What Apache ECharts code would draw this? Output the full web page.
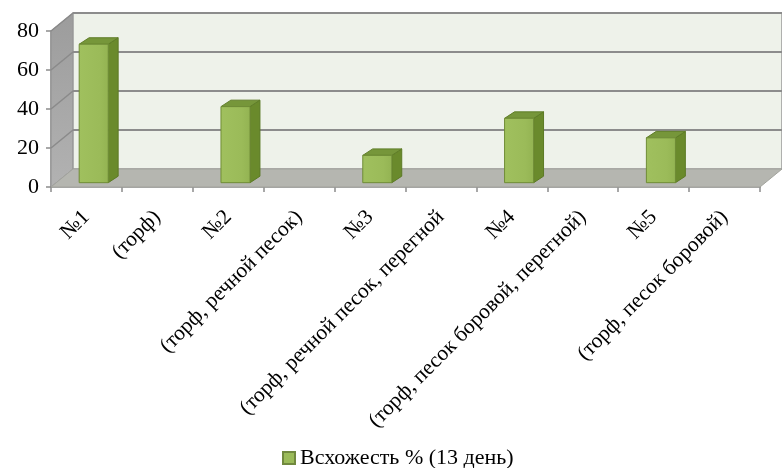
<!DOCTYPE html>
<html>
<head>
<meta charset="utf-8">
<script src="https://cdn.jsdelivr.net/npm/echarts@6/dist/echarts.min.js"></script>
<style>
  html, body { margin: 0; padding: 0; background: #ffffff; }
  #chart { width: 782px; height: 468px; }
</style>
</head>
<body>
<div id="chart"></div>
<script>
// Categories along the horizontal axis
const categories = [
  '№1', '(торф)',
  '№2', '(торф, речной песок)',
  '№3', '(торф, речной песок, перегной',
  '№4', '(торф, песок боровой, перегной)',
  '№5', '(торф, песок боровой)'
];
// Germination, % on day 13 (label rows carry no value)
const germination = [71, null, 39, null, 14, null, 33, null, 23, null];
const seriesName = 'Всхожесть % (13 день)';
// Value axis ticks
const yMin = 0;
const yMax = 80;
const yStep = 20;

// Depth of the pseudo-3D box, in pixels
const DX = 22;
const DY = -18;
const FONT = '"Liberation Serif", "Times New Roman", serif';

const chart = echarts.init(document.getElementById('chart'), null, { renderer: 'canvas' });

// Walls, floor and gridlines of the 3D box
function renderFrame(params, api) {
  const cs = params.coordSys;
  const xl = cs.x;
  const xr = cs.x + cs.width;
  const yb = api.coord([0, yMin])[1];
  const yt = api.coord([0, yMax])[1];
  const children = [];
  children.push({
    type: 'polygon',
    shape: { points: [[xl, yb], [xl, yt], [xl + DX, yt + DY], [xl + DX, yb + DY]] },
    style: {
      fill: new echarts.graphic.LinearGradient(0, 0, 0, 1, [
        { offset: 0, color: '#9c9c9c' },
        { offset: 1, color: '#b2b2b2' }
      ]),
      stroke: '#8f8f8f', lineWidth: 1
    }
  });
  children.push({
    type: 'rect',
    shape: { x: xl + DX, y: yt + DY, width: cs.width, height: yb - yt },
    style: { fill: '#eef2ea', stroke: '#9a9a9a', lineWidth: 1.5 }
  });
  children.push({
    type: 'polygon',
    shape: { points: [[xl, yb], [xr, yb], [xr + DX, yb + DY], [xl + DX, yb + DY]] },
    style: { fill: '#b5b6b0', stroke: '#a2a39d', lineWidth: 1 }
  });
  for (let v = yMin + yStep; v <= yMax; v += yStep) {
    const y = api.coord([0, v])[1];
    children.push({
      type: 'line',
      shape: { x1: xl + DX, y1: y + DY, x2: xr + DX, y2: y + DY },
      style: { stroke: '#8c8c8c', lineWidth: 2 }
    });
    children.push({
      type: 'line',
      shape: { x1: xl, y1: y, x2: xl + DX, y2: y + DY },
      style: { stroke: '#8a8a8a', lineWidth: 1.5 }
    });
  }
  return { type: 'group', children: children };
}

// A bar drawn as a box: front face, right side and top
function renderBar(params, api) {
  const v = api.value(1);
  if (v === null || v === undefined || isNaN(v)) return null;
  const idx = api.value(0);
  const top = api.coord([idx, v]);
  const base = api.coord([idx, 0]);
  const band = api.size([1, 0])[0];
  const w = band * 0.41;
  const ox = DX * 0.33;
  const oy = DY * 0.24;
  const x0 = top[0] - w / 2 + ox;
  const x1 = x0 + w;
  const yT = top[1] + oy;
  const yB = base[1] + oy;
  const dx = DX * 0.45;
  const dy = DY * 0.36;
  return {
    type: 'group',
    children: [
      {
        type: 'polygon',
        shape: { points: [[x1, yB], [x1, yT], [x1 + dx, yT + dy], [x1 + dx, yB + dy]] },
        style: { fill: '#6a8a2c', stroke: '#5c7a25', lineWidth: 1 }
      },
      {
        type: 'polygon',
        shape: { points: [[x0, yT], [x1, yT], [x1 + dx, yT + dy], [x0 + dx, yT + dy]] },
        style: { fill: '#76963a', stroke: '#5f7d28', lineWidth: 1 }
      },
      {
        type: 'rect',
        shape: { x: x0, y: yT, width: w, height: yB - yT },
        style: {
          fill: new echarts.graphic.LinearGradient(0, 0, 1, 0, [
            { offset: 0, color: '#a0c05e' },
            { offset: 0.7, color: '#9bbb59' },
            { offset: 1, color: '#93b352' }
          ]),
          stroke: '#6f8c36', lineWidth: 1
        }
      }
    ]
  };
}

const option = {
  backgroundColor: '#ffffff',
  animation: false,
  textStyle: { fontFamily: FONT, color: '#000000' },
  grid: { left: 51, right: 22, top: 31, bottom: 281, containLabel: false },
  legend: {
    data: [{ name: seriesName, icon: 'rect' }],
    left: 277,
    top: 442,
    itemWidth: 12,
    itemHeight: 12,
    itemGap: 3,
    textStyle: { fontFamily: FONT, fontSize: 22, color: '#000000' }
  },
  xAxis: {
    type: 'category',
    data: categories,
    boundaryGap: true,
    axisLine: { show: true, lineStyle: { color: '#8c8c8c', width: 1.5 } },
    axisTick: { show: true, length: 5, lineStyle: { color: '#8c8c8c', width: 1.5 } },
    axisLabel: {
      interval: 0,
      rotate: 45,
      margin: 27,
      fontFamily: FONT,
      fontSize: 21.5,
      color: '#000000'
    },
    splitLine: { show: false }
  },
  yAxis: {
    type: 'value',
    min: yMin,
    max: yMax,
    interval: yStep,
    axisLine: { show: true, lineStyle: { color: '#8c8c8c', width: 1.5 } },
    axisTick: { show: true, length: 5, lineStyle: { color: '#8c8c8c', width: 1.5 } },
    axisLabel: { margin: 12, fontFamily: FONT, fontSize: 22, color: '#000000' },
    splitLine: { show: false }
  },
  series: [
    {
      name: 'frame',
      type: 'custom',
      renderItem: renderFrame,
      data: [[0, 0]],
      clip: false,
      silent: true,
      z: 1
    },
    {
      name: seriesName,
      type: 'custom',
      renderItem: renderBar,
      data: germination.map(function (v, i) { return [i, v]; }),
      itemStyle: { color: '#9bbb59', borderColor: '#71893f', borderWidth: 1 },
      clip: false,
      z: 3
    }
  ]
};

chart.setOption(option);
</script>
</body>
</html>
